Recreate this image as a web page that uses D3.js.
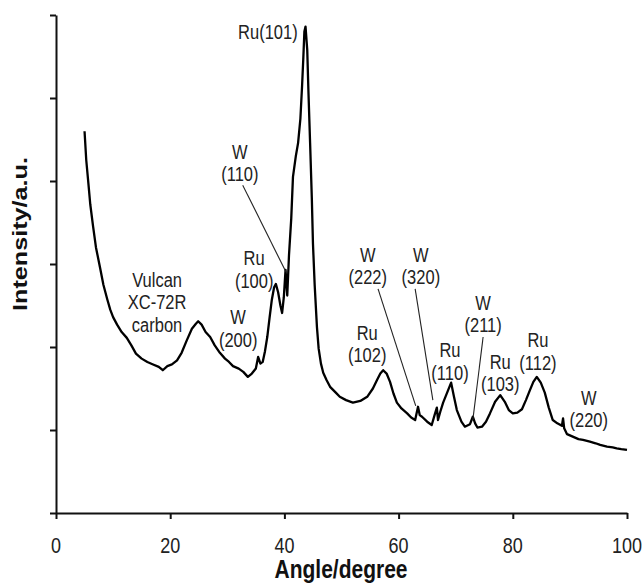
<!DOCTYPE html>
<html><head><meta charset="utf-8">
<script src="https://cdn.jsdelivr.net/npm/d3@7"></script>
<style>body{margin:0;background:#fff}svg{display:block}</style>
</head><body>
<svg id="c" width="643" height="584"></svg>
<script>
// ---- data ----
const angle = [5.0,5.3,5.7,6.0,6.5,7.0,7.7,8.3,9.0,9.5,10.0,10.7,11.5,12.4,13.2,14.0,15.0,16.0,17.0,18.0,18.7,19.5,20.3,21.2,22.0,22.9,23.8,24.5,24.9,25.5,26.2,27.0,27.8,28.7,29.6,30.3,31.0,32.0,32.8,33.6,34.3,35.0,35.4,35.8,36.2,36.6,37.0,37.4,37.8,38.2,38.5,38.9,39.3,39.6,39.9,40.2,40.5,40.8,41.2,41.5,42.0,42.4,42.8,43.1,43.3,43.5,43.7,44.0,44.2,44.5,44.8,45.0,45.3,45.7,46.0,46.4,46.8,47.4,48.0,49.0,49.7,50.8,52.0,53.3,54.5,55.5,56.2,56.8,57.3,57.9,58.5,59.1,59.7,60.5,61.5,62.2,62.9,63.4,63.7,64.1,65.0,65.8,66.3,66.7,66.9,67.3,67.8,68.5,69.2,69.7,70.2,71.0,71.6,72.5,73.0,73.4,73.8,74.6,75.3,76.0,76.9,77.8,78.6,79.3,80.0,80.8,81.6,82.3,83.0,83.6,84.2,84.9,85.6,86.3,87.0,87.8,88.6,88.8,89.0,89.5,90.5,91.5,92.3,93.5,94.5,95.3,96.5,97.5,98.2,99.0,100.0];
const intensity = [4.60,4.25,3.95,3.72,3.45,3.20,2.96,2.75,2.57,2.45,2.36,2.27,2.18,2.11,2.02,1.92,1.86,1.82,1.79,1.76,1.72,1.77,1.79,1.84,1.93,2.08,2.22,2.28,2.31,2.27,2.18,2.12,2.02,1.93,1.86,1.82,1.77,1.74,1.70,1.64,1.68,1.74,1.88,1.80,1.82,1.95,2.12,2.35,2.57,2.72,2.76,2.66,2.50,2.41,2.60,2.93,2.62,3.10,3.55,4.05,4.30,4.46,4.75,5.15,5.46,5.80,5.86,5.58,5.10,4.46,3.80,3.25,2.75,2.24,1.98,1.80,1.69,1.60,1.52,1.45,1.40,1.36,1.33,1.35,1.40,1.50,1.60,1.68,1.72,1.68,1.58,1.44,1.33,1.26,1.20,1.15,1.12,1.28,1.18,1.16,1.10,1.06,1.18,1.27,1.12,1.22,1.33,1.45,1.57,1.40,1.24,1.10,1.04,1.07,1.16,1.08,1.03,1.04,1.10,1.20,1.34,1.42,1.34,1.24,1.20,1.21,1.25,1.36,1.48,1.58,1.64,1.57,1.45,1.27,1.12,1.08,1.05,1.14,1.02,0.95,0.92,0.89,0.88,0.86,0.84,0.82,0.80,0.79,0.78,0.77,0.76];
const xTicks = [0,20,40,60,80,100];
const yTicks = [0,1,2,3,4,5,6];
const xTitle = "Angle/degree";
const yTitle = "Intensity/a.u.";
// peak labels: text lines, anchor (angle, intensity)
const labelText = [["Ru(101)"],["W","(110)"],["Ru","(100)"],["Vulcan","XC-72R","carbon"],["W","(200)"],["W","(222)"],["W","(320)"],["Ru","(102)"],["Ru","(110)"],["W","(211)"],["Ru","(103)"],["Ru","(112)"],["W","(220)"]];
const labelAngle = [37.1,32.2,34.7,17.7,31.9,54.6,63.9,54.5,69.0,74.8,77.8,84.4,93.3];
const labelInt   = [5.80,4.35,3.07,2.81,2.36,3.11,3.11,2.17,1.96,2.53,1.82,2.08,1.39];
// leader lines: [angle1, int1, angle2, int2]
const leaders = [[32.7,3.95,40.3,2.90],[56.4,2.70,63.0,1.29],[62.9,2.70,66.0,1.36],[74.8,2.12,73.0,1.12]];

// ---- chart ----
const svg = d3.select("#c");
const x = d3.scaleLinear().domain([0,100]).range([56,627]);
const y = d3.scaleLinear().domain([0,6]).range([513,15]);
const font = "'Liberation Sans', Arial, Helvetica, sans-serif";
const sy = 1.2;

// axes
const gx = svg.append("g").attr("transform","translate(0,513)")
  .call(d3.axisBottom(x).tickValues(xTicks).tickSize(6).tickSizeOuter(0).tickFormat(""));
const gy = svg.append("g").attr("transform","translate(56,0)")
  .call(d3.axisLeft(y).tickValues(yTicks).tickSize(6).tickSizeOuter(0).tickFormat(""));
[gx,gy].forEach(g=>{g.selectAll("path,line").attr("stroke","#111").attr("stroke-width",2);});

// x tick labels
svg.append("g").selectAll("text").data(xTicks).join("text")
  .attr("transform",d=>`translate(${x(d)},545) scale(1,${sy})`)
  .attr("text-anchor","middle").attr("dy","0.35em")
  .attr("font-family",font).attr("font-size",18).attr("fill","#222")
  .text(d=>d);

// axis titles
svg.append("text").attr("transform",`translate(341,569) scale(1,${sy})`)
  .attr("text-anchor","middle").attr("dy","0.35em")
  .attr("font-family",font).attr("font-size",21).attr("font-weight","bold").attr("fill","#111")
  .text(xTitle);
svg.append("text").attr("transform",`translate(20,234) scale(1,${sy}) rotate(-90)`)
  .attr("text-anchor","middle").attr("dy","0.35em")
  .attr("font-family",font).attr("font-size",21).attr("font-weight","bold").attr("fill","#111")
  .text(yTitle);

// curve
const pts = angle.map((a,i)=>[a,intensity[i]]);
svg.append("path").datum(pts)
  .attr("fill","none").attr("stroke","#000").attr("stroke-width",2.3).attr("stroke-linejoin","round")
  .attr("d",d3.line().x(d=>x(d[0])).y(d=>y(d[1])));

// leader lines
svg.append("g").selectAll("line").data(leaders).join("line")
  .attr("x1",d=>x(d[0])).attr("y1",d=>y(d[1])).attr("x2",d=>x(d[2])).attr("y2",d=>y(d[3]))
  .attr("stroke","#222").attr("stroke-width",1.1);

// peak labels
const lab = svg.append("g");
labelText.forEach((lines,i)=>{
  const g = lab.append("g").attr("transform",`translate(${x(labelAngle[i])},${y(labelInt[i])}) scale(1,${sy})`);
  lines.forEach((t,j)=>{
    g.append("text").attr("x",0).attr("y",j*18.8).attr("dy","0.35em")
     .attr("text-anchor","middle").attr("font-family",font).attr("font-size",16.5).attr("fill","#222").text(t);
  });
});
</script>
</body></html>
